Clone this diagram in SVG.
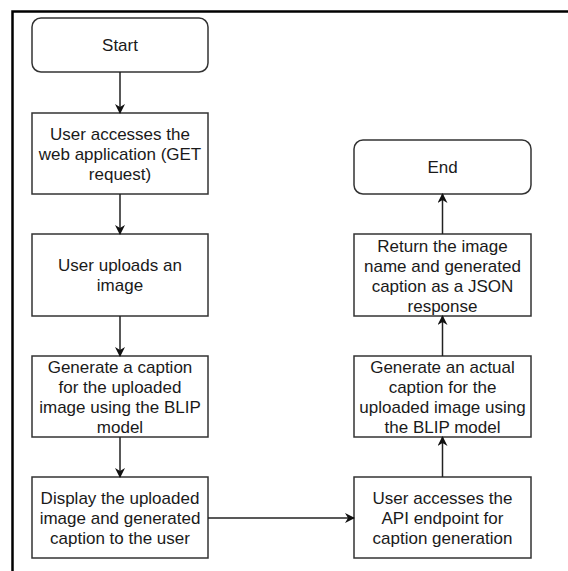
<svg xmlns="http://www.w3.org/2000/svg" width="568" height="571" viewBox="0 0 568 571">
<defs>
<style>
.box{fill:#fff;stroke:#333;stroke-width:1.5}
.t{font-family:"Liberation Sans",Arial,sans-serif;font-size:17px;fill:#1a1a1a;text-anchor:middle}
.c{stroke:#222;stroke-width:1.5;fill:none}
.frame{stroke:#000;stroke-width:2.5;fill:none}
</style>
<marker id="ah" viewBox="0 0 10 10" refX="9" refY="5" markerWidth="10" markerHeight="10" markerUnits="userSpaceOnUse" orient="auto">
<path d="M0,0 L10,5 L0,10 L3,5 Z" fill="#111"/>
</marker>
</defs>
<rect width="568" height="571" fill="#fff"/>
<path class="frame" d="M12.5,571 V11.5 H568"/>
<g id="start"><rect class="box" x="32" y="18" width="176" height="54" rx="9"/><text class="t" x="120" y="51">Start</text></g>
<g id="access"><rect class="box" x="32" y="113" width="176" height="81"/><text class="t" x="120"><tspan x="120" y="139.5">User accesses the</tspan><tspan x="120" y="159.5">web application (GET</tspan><tspan x="120" y="179.5">request)</tspan></text></g>
<g id="upload"><rect class="box" x="32" y="234" width="176" height="82"/><text class="t"><tspan x="120" y="271">User uploads an</tspan><tspan x="120" y="291">image</tspan></text></g>
<g id="generate"><rect class="box" x="32" y="356" width="176" height="81"/><text class="t"><tspan x="120" y="372.5">Generate a caption</tspan><tspan x="120" y="392.5">for the uploaded</tspan><tspan x="120" y="412.5">image using the BLIP</tspan><tspan x="120" y="432.5">model</tspan></text></g>
<g id="display"><rect class="box" x="32" y="477" width="176" height="81"/><text class="t"><tspan x="120" y="504">Display the uploaded</tspan><tspan x="120" y="524">image and generated</tspan><tspan x="120" y="544">caption to the user</tspan></text></g>
<g id="end"><rect class="box" x="354" y="140" width="177" height="54" rx="9"/><text class="t" x="442.5" y="173">End</text></g>
<g id="return"><rect class="box" x="354" y="234" width="177" height="82"/><text class="t"><tspan x="442.5" y="251.5">Return the image</tspan><tspan x="442.5" y="271.5">name and generated</tspan><tspan x="442.5" y="291.5">caption as a JSON</tspan><tspan x="442.5" y="311.5">response</tspan></text></g>
<g id="actual"><rect class="box" x="354" y="356" width="177" height="81"/><text class="t"><tspan x="442.5" y="372.5">Generate an actual</tspan><tspan x="442.5" y="392.5">caption for the</tspan><tspan x="442.5" y="412.5">uploaded image using</tspan><tspan x="442.5" y="432.5">the BLIP model</tspan></text></g>
<g id="api"><rect class="box" x="354" y="477" width="177" height="81"/><text class="t"><tspan x="442.5" y="504">User accesses the</tspan><tspan x="442.5" y="524">API endpoint for</tspan><tspan x="442.5" y="544">caption generation</tspan></text></g>
<g id="connectors">
<path class="c" d="M120,72 V113" marker-end="url(#ah)"/>
<path class="c" d="M120,194 V234" marker-end="url(#ah)"/>
<path class="c" d="M120,316 V356" marker-end="url(#ah)"/>
<path class="c" d="M120,437 V477" marker-end="url(#ah)"/>
<path class="c" d="M208,518 H354" marker-end="url(#ah)"/>
<path class="c" d="M442.5,477 V437" marker-end="url(#ah)"/>
<path class="c" d="M442.5,356 V316" marker-end="url(#ah)"/>
<path class="c" d="M442.5,234 V194" marker-end="url(#ah)"/>
</g>
</svg>
